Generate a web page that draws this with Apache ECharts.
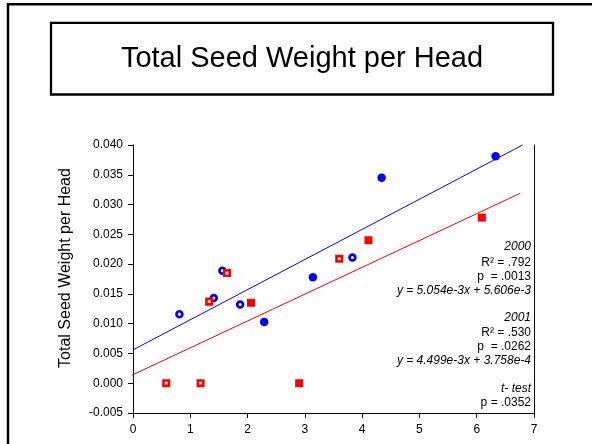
<!DOCTYPE html>
<html>
<head>
<meta charset="utf-8">
<script src="https://cdn.jsdelivr.net/npm/echarts@6/dist/echarts.min.js"></script>
<style>
html,body{margin:0;padding:0;background:#fff;}
#c{width:592px;height:444px;}
</style>
</head>
<body>
<div id="c"></div>
<script>
// ---- data ----
var chartTitle = 'Total Seed Weight per Head';
var yAxisTitle = 'Total Seed Weight per Head';

var blueFilledX = [2.29, 3.14, 4.34, 6.33];
var blueFilledY = [0.0103, 0.0178, 0.0345, 0.0381];
var blueOpenX = [0.81, 1.41, 1.56, 1.87, 3.83];
var blueOpenY = [0.0116, 0.0143, 0.0189, 0.0132, 0.0211];
var redFilledX = [2.06, 2.90, 4.11, 6.09];
var redFilledY = [0.0135, 0.0000, 0.0240, 0.0278];
var redOpenX = [0.58, 1.18, 1.33, 1.64, 3.60];
var redOpenY = [0.0000, 0.0000, 0.0137, 0.0185, 0.0209];

var blueLineX = [0, 6.80];
var blueLineY = [0.0056, 0.0400];
var redLineX = [-0.22, 6.76];
var redLineY = [0.00045, 0.0319];

var xTicks = {min: 0, max: 7, interval: 1};
var yTicks = {min: -0.005, max: 0.040, interval: 0.005};

var annotationLines = [
  {t: '2000', italic: true},
  {t: 'R\u00B2 = .792', italic: false},
  {t: 'p  = .0013', italic: false},
  {t: 'y = 5.054e-3x + 5.606e-3', italic: true},
  {t: '2001', italic: true},
  {t: 'R\u00B2 = .530', italic: false},
  {t: 'p  = .0262', italic: false},
  {t: 'y = 4.499e-3x + 3.758e-4', italic: true},
  {t: 't- test', italic: true},
  {t: 'p = .0352', italic: false}
];
var annotationYs = [246.7, 262.3, 276.7, 291, 317.7, 332.7, 346.7, 361, 389, 402.3];

function zip(xs, ys) { return xs.map(function (x, i) { return [x, ys[i]]; }); }

var FONT = '"Liberation Sans", Arial, sans-serif';
var BLUE = '#0000ff', RED = '#ff0000';

var chart = echarts.init(document.getElementById('c'), null, {renderer: 'canvas'});

var graphics = [
  {type: 'rect', shape: {x: 8, y: 4.3, width: 700, height: 600},
   style: {fill: 'none', stroke: '#000', lineWidth: 2.5}, silent: true},
  {type: 'rect', shape: {x: 51, y: 22.8, width: 502, height: 71.7},
   style: {fill: '#fff', stroke: '#000', lineWidth: 2.3}, silent: true},
  {type: 'text', x: 302, y: 59, silent: true,
   style: {text: chartTitle, font: 'normal 29px ' + FONT, fill: '#000',
           textAlign: 'center', textVerticalAlign: 'middle'}},
  {type: 'text', x: 66, y: 268, rotation: Math.PI / 2, silent: true,
   style: {text: yAxisTitle, font: 'normal 16px ' + FONT, fill: '#000',
           textAlign: 'center', textVerticalAlign: 'middle'}}
];
annotationLines.forEach(function (a, i) {
  graphics.push({type: 'text', x: 531, y: annotationYs[i], silent: true,
    style: {text: a.t, font: (a.italic ? 'italic ' : 'normal ') + '12px ' + FONT,
            fill: '#000', textAlign: 'right', textVerticalAlign: 'middle'}});
});

var option = {
  animation: false,
  backgroundColor: '#fff',
  grid: {left: 133, right: 58, top: 145, bottom: 31, containLabel: false},
  xAxis: {
    type: 'value', min: xTicks.min, max: xTicks.max, interval: xTicks.interval,
    axisLine: {show: true, onZero: false, lineStyle: {color: '#000', width: 1}},
    axisTick: {show: true, inside: false, length: 5, lineStyle: {color: '#000'}},
    axisLabel: {color: '#000', fontSize: 12, fontFamily: FONT, margin: 11},
    splitLine: {show: false}
  },
  yAxis: [{
    type: 'value', min: yTicks.min, max: yTicks.max, interval: yTicks.interval,
    axisLine: {show: true, onZero: false, lineStyle: {color: '#000', width: 1}},
    axisTick: {show: true, inside: false, length: 5, lineStyle: {color: '#000'}},
    axisLabel: {color: '#000', fontSize: 12, fontFamily: FONT, margin: 10,
                formatter: function (v) { return v.toFixed(3); }},
    splitLine: {show: false}
  }, {
    type: 'value', position: 'right', min: yTicks.min, max: yTicks.max, interval: yTicks.interval,
    axisLine: {show: true, onZero: false, lineStyle: {color: '#000', width: 1}},
    axisTick: {show: false}, axisLabel: {show: false}, splitLine: {show: false}
  }],
  series: [
    {type: 'line', data: zip(blueLineX, blueLineY), showSymbol: false, symbol: 'none', clip: false,
     lineStyle: {color: BLUE, width: 1}, z: 1, silent: true},
    {type: 'line', data: zip(redLineX, redLineY), showSymbol: false, symbol: 'none', clip: false,
     lineStyle: {color: RED, width: 1}, z: 1, silent: true},
    {type: 'scatter', data: zip(redFilledX, redFilledY), symbol: 'rect', symbolSize: 8,
     itemStyle: {color: RED, opacity: 1}, z: 3},
    {type: 'scatter', data: zip(redOpenX, redOpenY), symbol: 'rect', symbolSize: 5.4,
     itemStyle: {color: '#fff', borderColor: RED, borderWidth: 2.7, opacity: 1}, z: 3},
    {type: 'scatter', data: zip(blueFilledX, blueFilledY), symbol: 'circle', symbolSize: 8.5,
     itemStyle: {color: BLUE, opacity: 1}, z: 2},
    {type: 'scatter', data: zip(blueOpenX, blueOpenY), symbol: 'circle', symbolSize: 5.8,
     itemStyle: {color: '#fff', borderColor: BLUE, borderWidth: 2.7, opacity: 1}, z: 2}
  ],
  graphic: graphics
};
chart.setOption(option);
</script>
</body>
</html>
